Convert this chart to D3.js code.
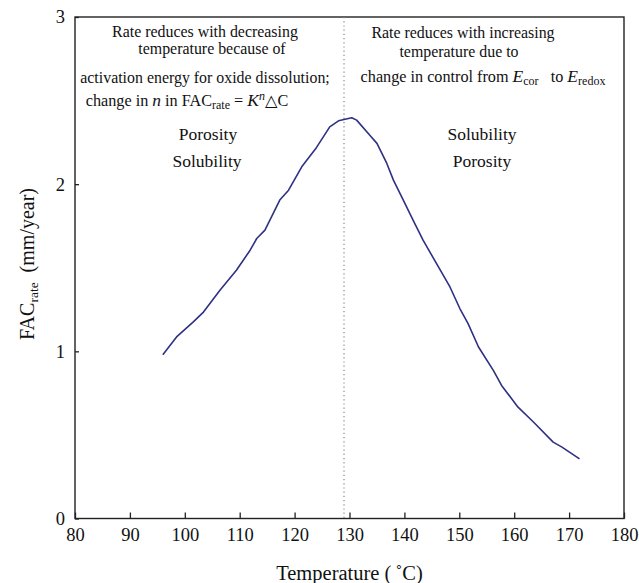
<!DOCTYPE html>
<html>
<head>
<meta charset="utf-8">
<script src="https://cdn.jsdelivr.net/npm/d3@7"></script>
<style>
  html, body { margin: 0; padding: 0; background: #fff; }
  svg text { font-family: "Liberation Serif", "DejaVu Serif", serif; }
</style>
</head>
<body>
<svg id="chart" width="639" height="583"></svg>
<script>
// FAC rate versus temperature
const temperature = [96, 98.5, 101.5, 103.4, 106.4, 109.4, 111.9, 113.1, 114.6, 117.3, 118.9, 121.3, 124.0, 126.4, 128.0, 130.4, 131.3, 133.7, 135.0, 136.8, 138.0, 139.8, 141.6, 143.4, 146.2, 148.3, 150.1, 151.6, 153.5, 156.2, 157.7, 160.7, 163.5, 167.1, 168.7, 171.9];
const facRate     = [0.98, 1.086, 1.175, 1.235, 1.365, 1.485, 1.605, 1.675, 1.725, 1.905, 1.964, 2.104, 2.22, 2.343, 2.379, 2.397, 2.383, 2.293, 2.244, 2.124, 2.024, 1.904, 1.784, 1.665, 1.505, 1.385, 1.256, 1.166, 1.026, 0.886, 0.796, 0.666, 0.577, 0.457, 0.427, 0.357];
const xTicks = [80, 90, 100, 110, 120, 130, 140, 150, 160, 170, 180];
const yTicks = [0, 1, 2, 3];
const peakTemperature = 129;

const serif = '"Liberation Serif", "DejaVu Serif", serif';
const svg = d3.select("#chart");
const plot = { left: 75, right: 624, top: 17, bottom: 518.5 };

const x = d3.scaleLinear().domain([80, 180]).range([plot.left, plot.right]);
const y = d3.scaleLinear().domain([0, 3]).range([plot.bottom, plot.top]);

// frame
svg.append("rect")
  .attr("x", plot.left).attr("y", plot.top)
  .attr("width", plot.right - plot.left).attr("height", plot.bottom - plot.top)
  .attr("fill", "none").attr("stroke", "#222").attr("stroke-width", 1.4);

// x axis
const gx = svg.append("g")
  .attr("transform", `translate(0,${plot.bottom})`)
  .call(d3.axisBottom(x).tickValues(xTicks).tickFormat(d3.format("d"))
    .tickSizeInner(-6).tickSizeOuter(0).tickPadding(9));
gx.attr("font-family", null);
gx.select(".domain").remove();
gx.selectAll(".tick line").attr("stroke", "#222").attr("stroke-width", 1.3);
gx.selectAll(".tick text")
  .style("font-family", serif).attr("font-size", 18.5).attr("fill", "#111");

// y axis
const gy = svg.append("g")
  .attr("transform", `translate(${plot.left},0)`)
  .call(d3.axisLeft(y).tickValues(yTicks).tickFormat(d3.format("d"))
    .tickSizeInner(-4).tickSizeOuter(0).tickPadding(10));
gy.attr("font-family", null);
gy.select(".domain").remove();
gy.selectAll(".tick line").attr("stroke", "#222").attr("stroke-width", 1.3);
gy.selectAll(".tick text")
  .style("font-family", serif).attr("font-size", 18.5).attr("fill", "#111");

// peak divider
svg.append("line")
  .attr("x1", x(peakTemperature)).attr("x2", x(peakTemperature))
  .attr("y1", plot.top).attr("y2", plot.bottom)
  .attr("stroke", "#888").attr("stroke-width", 1.2)
  .attr("stroke-dasharray", "1.2,3");

// curve
const pts = temperature.map((t, i) => [t, facRate[i]]);
svg.append("path")
  .datum(pts)
  .attr("fill", "none")
  .attr("stroke", "#2e3183")
  .attr("stroke-width", 1.6)
  .attr("stroke-linejoin", "round")
  .attr("d", d3.line().x(d => x(d[0])).y(d => y(d[1])));

// axis titles
svg.append("text")
  .attr("x", (plot.left + plot.right) / 2).attr("y", 580)
  .attr("text-anchor", "middle").attr("font-size", 20.5).attr("fill", "#111")
  .style("font-family", serif)
  .text("Temperature (\u2009˚C)");

const yt = svg.append("text")
  .attr("transform", "translate(34,264) rotate(-90)")
  .attr("text-anchor", "middle").attr("font-size", 20).attr("fill", "#111")
  .style("font-family", serif);
yt.append("tspan").text("FAC");
yt.append("tspan").attr("font-size", 13.5).attr("dy", 4).text("rate");
yt.append("tspan").attr("dy", -4).text("\u2002(mm/year)");

// annotations
function plain(cx, by, size, str) {
  return svg.append("text")
    .attr("x", cx).attr("y", by)
    .attr("text-anchor", "middle").attr("font-size", size).attr("fill", "#111")
    .style("font-family", serif)
    .text(str);
}
plain(205, 37, 15.9, "Rate reduces with decreasing");
plain(212, 53.5, 15.9, "temperature because of");
plain(205, 83, 15.9, "activation energy for oxide dissolution;");

const eq = svg.append("text")
  .attr("x", 187).attr("y", 106)
  .attr("text-anchor", "middle").attr("font-size", 16.2).attr("fill", "#111")
  .style("font-family", serif);
eq.append("tspan").text("change in ");
eq.append("tspan").attr("font-style", "italic").attr("font-size", 17.5).text("n");
eq.append("tspan").text(" in FAC");
eq.append("tspan").attr("font-size", 12).attr("dy", 3).text("rate");
eq.append("tspan").attr("dy", -3).text(" = ");
eq.append("tspan").attr("font-style", "italic").attr("font-size", 17.5).text("K");
eq.append("tspan").attr("font-style", "italic").attr("font-size", 12).attr("dy", -6).text("n");
eq.append("tspan").attr("dy", 6).text("\u25B3C");

plain(208, 140, 17.5, "Porosity");
plain(207, 167, 17.5, "Solubility");

plain(463, 38, 15.9, "Rate reduces with increasing");
plain(459, 56.5, 15.9, "temperature due to");

const ctl = svg.append("text")
  .attr("x", 483).attr("y", 82)
  .attr("text-anchor", "middle").attr("font-size", 16.2).attr("fill", "#111")
  .style("font-family", serif);
ctl.append("tspan").text("change in control from ");
ctl.append("tspan").attr("font-style", "italic").attr("font-size", 17.5).text("E");
ctl.append("tspan").attr("font-size", 12).attr("dy", 3).text("cor");
ctl.append("tspan").attr("dy", -3).text("\u2002 to ");
ctl.append("tspan").attr("font-style", "italic").attr("font-size", 17.5).text("E");
ctl.append("tspan").attr("font-size", 12).attr("dy", 3).text("redox");

plain(482, 140, 17.5, "Solubility");
plain(482, 167, 17.5, "Porosity");
</script>
</body>
</html>
